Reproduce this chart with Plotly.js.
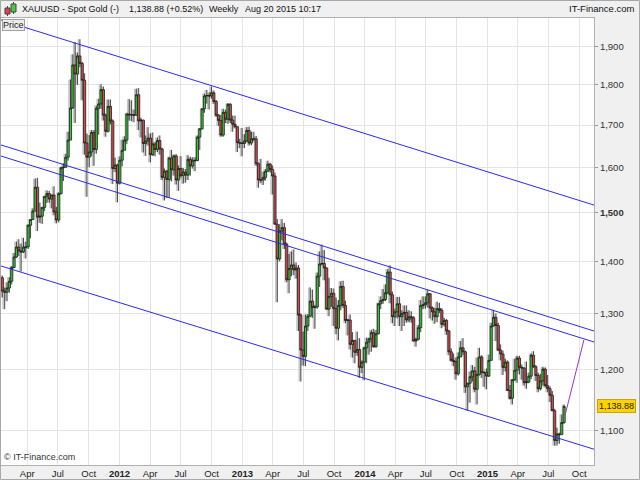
<!DOCTYPE html>
<html><head><meta charset="utf-8">
<script src="https://cdn.plot.ly/plotly-3.0.1.min.js"></script>
<style>html,body{margin:0;padding:0;background:#fff;}#chart{width:640px;height:480px;}</style>
</head><body><div id="chart"></div>
<script>
// ---- weekly candles (week start Mondays, first week below) ----
const firstWeek = '2011-01-17';
const open = [
1368,1342,1340,1348,1361,1388,1409,1429,1421,1419,1429,1429,1474,1486,1504,1556,1491,1493,1512,1536,1542,1530,1539,1502,1485,1542,1600,1601,1624,1664,1742,1852,1828,1876,1856,1812,1657,1624,1636,1682,1642,1741,1752,1788,1724,1685,1746,1710,1598,1606,
1565,1617,1640,1664,1727,1725,1725,1724,1775,1710,1712,1656,1662,1669,1630,1655,1642,1663,1643,1578,1592,1573,1622,1595,1627,1572,1598,1582,1590,1583,1619,1604,1617,1616,1671,1691,1740,1772,1773,1772,1780,1758,1724,1711,1676,1731,1714,1751,1712,1702,1696,1658,1657,
1656,1662,1687,1657,1667,1667,1609,1572,1572,1578,1592,1608,1596,1581,1476,1405,1462,1469,1435,1364,1386,1393,1383,1387,1297,1234,1223,1277,1295,1323,1311,1312,1371,1395,1396,1387,1308,1332,1338,1309,1273,1315,1351,1315,1287,1288,1244,1251,1230,1235,1204,1213,
1238,1248,1254,1265,1240,1263,1318,1324,1326,1339,1379,1335,1294,1303,1318,1294,1300,1302,1288,1294,1292,1250,1253,1274,1315,1316,1320,1337,1310,1303,1294,1309,1306,1280,1287,1268,1231,1216,1214,1193,1222,1238,1231,1171,1177,1188,1198,1167,1192,1222,1195,1195,
1189,1216,1277,1293,1278,1234,1227,1204,1213,1165,1152,1183,1199,1220,1204,1203,1178,1179,1189,1225,1205,1190,1168,1181,1201,1173,1168,1157,1132,1085,1095,1094,1113];
const high = [
1372,1349,1359,1369,1391,1417,1440,1445,1436,1448,1440,1476,1487,1510,1575,1577,1522,1513,1537,1549,1548,1537,1558,1513,1545,1602,1610,1632,1684,1814,1880,1913,1885,1921,1860,1830,1680,1676,1688,1688,1748,1765,1802,1796,1728,1763,1763,1714,1623,1609,
1626,1665,1673,1730,1764,1761,1738,1790,1792,1718,1713,1675,1695,1680,1682,1660,1670,1675,1646,1598,1595,1625,1641,1630,1631,1605,1627,1599,1597,1629,1625,1624,1624,1675,1693,1741,1778,1787,1781,1796,1786,1762,1727,1725,1740,1738,1754,1754,1723,1723,1697,1667,1693,
1678,1695,1696,1684,1684,1674,1612,1620,1591,1597,1616,1611,1605,1589,1487,1476,1487,1479,1438,1415,1420,1424,1398,1393,1300,1267,1298,1299,1349,1345,1316,1378,1420,1434,1423,1388,1368,1348,1347,1330,1325,1361,1362,1324,1290,1298,1266,1252,1267,1255,1216,1240,
1256,1256,1270,1272,1270,1320,1332,1346,1355,1385,1392,1341,1309,1331,1331,1306,1315,1315,1306,1304,1295,1256,1279,1325,1332,1332,1345,1338,1313,1311,1322,1320,1310,1292,1290,1270,1237,1228,1221,1230,1250,1255,1233,1178,1197,1208,1205,1221,1238,1225,1198,1202,
1226,1283,1307,1300,1283,1244,1233,1219,1216,1174,1184,1219,1224,1224,1209,1204,1214,1195,1228,1232,1208,1195,1193,1205,1204,1191,1172,1164,1135,1105,1097,1126,1142];
const low = [
1330,1308,1323,1339,1355,1387,1407,1411,1380,1417,1406,1425,1447,1485,1504,1462,1479,1477,1504,1522,1522,1510,1495,1478,1480,1540,1570,1600,1616,1664,1740,1705,1800,1846,1761,1630,1535,1601,1626,1604,1632,1677,1740,1711,1672,1682,1702,1563,1590,1523,
1562,1603,1640,1655,1711,1710,1707,1723,1688,1670,1635,1627,1651,1612,1627,1626,1636,1630,1572,1527,1532,1533,1569,1582,1562,1548,1577,1564,1566,1572,1582,1598,1592,1615,1641,1689,1730,1753,1738,1765,1752,1720,1698,1672,1672,1705,1703,1705,1684,1692,1636,1645,1626,
1645,1659,1651,1652,1661,1604,1555,1565,1561,1571,1591,1589,1540,1476,1321,1400,1443,1425,1359,1338,1371,1373,1366,1268,1180,1207,1206,1268,1294,1292,1272,1309,1350,1392,1363,1307,1295,1312,1277,1262,1251,1306,1310,1282,1260,1235,1221,1211,1224,1186,1194,1182,
1211,1226,1231,1238,1238,1262,1308,1318,1323,1336,1319,1282,1277,1291,1277,1268,1277,1283,1284,1283,1249,1240,1251,1266,1308,1309,1311,1291,1287,1281,1284,1301,1273,1276,1261,1225,1214,1206,1183,1190,1222,1225,1161,1132,1145,1180,1162,1142,1190,1186,1171,1167,
1188,1216,1276,1250,1232,1216,1191,1197,1164,1150,1142,1181,1178,1192,1183,1173,1168,1177,1184,1203,1181,1162,1165,1173,1170,1162,1146,1131,1077,1077,1080,1094,1111];
const close = [
1342,1340,1348,1361,1388,1409,1429,1421,1419,1429,1429,1474,1486,1504,1556,1491,1493,1512,1536,1542,1530,1539,1502,1485,1542,1600,1601,1624,1664,1742,1852,1828,1876,1856,1812,1657,1624,1636,1682,1642,1741,1752,1788,1724,1685,1746,1710,1598,1606,1565,
1617,1640,1664,1727,1725,1725,1724,1775,1710,1712,1656,1662,1669,1630,1655,1642,1663,1643,1578,1592,1573,1622,1595,1627,1572,1598,1582,1590,1583,1619,1604,1617,1616,1671,1691,1740,1772,1773,1772,1780,1758,1724,1711,1676,1731,1714,1751,1712,1702,1696,1658,1657,1656,
1662,1687,1657,1667,1667,1609,1572,1572,1578,1592,1608,1596,1581,1476,1405,1462,1469,1435,1364,1386,1393,1383,1387,1297,1234,1223,1277,1295,1323,1311,1312,1371,1395,1396,1387,1308,1332,1338,1309,1273,1315,1351,1315,1287,1288,1244,1251,1230,1235,1204,1213,1238,
1248,1254,1265,1240,1263,1318,1324,1326,1339,1379,1335,1294,1303,1318,1294,1300,1302,1288,1294,1292,1250,1253,1274,1315,1316,1320,1337,1310,1303,1294,1309,1306,1280,1287,1268,1231,1216,1214,1193,1222,1238,1231,1171,1177,1188,1198,1167,1192,1222,1195,1195,1189,
1216,1277,1293,1278,1234,1227,1204,1213,1165,1152,1183,1199,1220,1204,1203,1178,1179,1189,1225,1205,1190,1168,1181,1201,1173,1168,1157,1132,1085,1095,1094,1113,1138.88];

// ---- axes ----
const yTickValues = [1100,1200,1300,1400,1500,1600,1700,1800,1900];
const yTickLabels = ['1,100','1,200','1,300','1,400','<b>1,500</b>','1,600','1,700','1,800','1,900'];
const xTickDates = ['2011-04-01','2011-07-01','2011-10-01','2012-01-01','2012-04-01','2012-07-01','2012-10-01','2013-01-01','2013-04-01','2013-07-01','2013-10-01','2014-01-01','2014-04-01','2014-07-01','2014-10-01','2015-01-01','2015-04-01','2015-07-01','2015-10-01'];
const xTickLabels = ['Apr','Jul','Oct','<b>2012</b>','Apr','Jul','Oct','<b>2013</b>','Apr','Jul','Oct','<b>2014</b>','Apr','Jul','Oct','<b>2015</b>','Apr','Jul','Oct'];
const xRange = ['2011-01-13','2015-11-14'];
const yRange = [1047.7, 1980];

// ---- drawn trend lines ----
const lineDates = ['2011-01-13','2015-11-14'];
const channelTopY = [1974.5, 1517];
const channelMidAY = [1652.6, 1267.9];
const channelMidBY = [1626.7, 1248.2];
const channelLowY = [1390.9, 1071.5];
const projectionDates = ['2015-08-20','2015-10-15'];
const projectionY = [1125, 1252];

// header texts
const headerParts = ['XAUUSD - Spot Gold (-)','1,138.88 (+0.52%)','Weekly','Aug 20 2015 10:17'];

const DAY = 86400000;
const dates = [];
{
  const t0 = Date.parse(firstWeek + 'T00:00:00Z');
  for (let i = 0; i < close.length; i++) {
    dates.push(new Date(t0 + i * 7 * DAY).toISOString().slice(0, 10));
  }
}
const ranges = high.map((h, i) => h - low[i]);

const blue = '#2a2af0';
function lineTrace(x, y, color) {
  return {type:'scatter', mode:'lines', x:x, y:y, line:{color:color, width:1}, hoverinfo:'skip', showlegend:false};
}
const traces = [
  // light grey shadow of each week's range, drawn behind the candles
  {type:'bar', x:dates, y:ranges, base:low, width:6*DAY, offset:-7*DAY,
   marker:{color:'#c6c6c6', line:{width:0}}, hoverinfo:'skip', showlegend:false},
  lineTrace(lineDates, channelTopY, blue),
  lineTrace(lineDates, channelMidAY, blue),
  lineTrace(lineDates, channelMidBY, blue),
  lineTrace(lineDates, channelLowY, blue),
  lineTrace(projectionDates, projectionY, '#9933cc'),
  {
    type:'candlestick', x:dates, open:open, high:high, low:low, close:close,
    increasing:{line:{color:'#1a1a1a', width:0.8}, fillcolor:'#33cc33'},
    decreasing:{line:{color:'#1a1a1a', width:0.8}, fillcolor:'#dd4c4c'},
    whiskerwidth:0, showlegend:false, hoverinfo:'skip'
  }
];

// pixel helpers for decorations (plot area: x 1..594, y 18..465)
const L = 1, R = 46, T = 18, B = 15, W = 640, H = 480;
const pw = W - L - R, ph = H - T - B;
const px = v => (v - L) / pw;
const py = v => (H - B - v) / ph;

const font = 'Liberation Sans, Arial, sans-serif';
const ann = [];
const headerX = [20, 127, 207, 243];
headerParts.forEach((t, i) => ann.push({xref:'paper', yref:'paper', x:px(headerX[i]), y:py(9), xanchor:'left', yanchor:'middle', text:t, showarrow:false, font:{family:font, size:9, color:'#111'}}));
ann.push({xref:'paper', yref:'paper', x:px(637), y:py(9), xanchor:'right', yanchor:'middle', text:'IT-Finance.com', showarrow:false, font:{family:font, size:9.5, color:'#111'}});
ann.push({xref:'paper', yref:'paper', x:px(1.5), y:py(18.5), xanchor:'left', yanchor:'top', text:'Price', showarrow:false, bgcolor:'#ececec', bordercolor:'#a0a0a0', borderwidth:1, borderpad:0, font:{family:font, size:9, color:'#222'}});
ann.push({xref:'paper', yref:'paper', x:px(2), y:py(464), xanchor:'left', yanchor:'bottom', text:'© IT-Finance.com', showarrow:false, font:{family:font, size:9, color:'#333'}});
ann.push({xref:'paper', yref:'y', x:1, xshift:3, y:Math.log10(close[close.length-1]), xanchor:'left', yanchor:'middle', text:close[close.length-1].toLocaleString('en-US',{minimumFractionDigits:2}), showarrow:false, bgcolor:'#ffd200', bordercolor:'#c9a400', borderwidth:1, borderpad:1, font:{family:font, size:9, color:'#222'}});

const shapes = [
  // header icon candles
  {type:'line', xref:'paper', yref:'paper', x0:px(7.5), x1:px(7.5), y0:py(6), y1:py(16), line:{color:'#444', width:1}},
  {type:'rect', xref:'paper', yref:'paper', x0:px(5), x1:px(10), y0:py(8), y1:py(14), fillcolor:'#dd4444', line:{color:'#444', width:1}},
  {type:'line', xref:'paper', yref:'paper', x0:px(13.5), x1:px(13.5), y0:py(2), y1:py(14), line:{color:'#444', width:1}},
  {type:'rect', xref:'paper', yref:'paper', x0:px(11), x1:px(16), y0:py(4), y1:py(12), fillcolor:'#44cc44', line:{color:'#444', width:1}},
  // outer border
  {type:'rect', xref:'paper', yref:'paper', x0:px(0.5), x1:px(639.5), y0:py(479.5), y1:py(0.5), line:{color:'#a8a8a8', width:1}, fillcolor:'rgba(0,0,0,0)'}
];

const layout = {
  width:W, height:H,
  margin:{l:L, r:R, t:T, b:B, pad:0},
  paper_bgcolor:'#f0f0f0', plot_bgcolor:'#ffffff',
  showlegend:false, boxgap:0.05, boxgroupgap:0.05, barmode:'overlay',
  font:{family:font, size:9, color:'#333'},
  xaxis:{type:'date', range:xRange, tickmode:'array', tickvals:xTickDates, ticktext:xTickLabels,
    showgrid:true, gridcolor:'#e4e4e4', gridwidth:1, ticks:'', tickfont:{family:font, size:9.5, color:'#222'},
    showline:true, linecolor:'#b0b0b0', mirror:true, zeroline:false, rangeslider:{visible:false}, fixedrange:true},
  yaxis:{type:'log', side:'right', range:[Math.log10(yRange[0]), Math.log10(yRange[1])], tickmode:'array', tickvals:yTickValues, ticktext:yTickLabels,
    showgrid:true, gridcolor:'#e4e4e4', gridwidth:1, ticks:'outside', ticklen:3, tickcolor:'#999', tickfont:{family:font, size:9.5, color:'#333'},
    showline:true, linecolor:'#b0b0b0', mirror:true, zeroline:false, fixedrange:true},
  annotations:ann, shapes:shapes
};
Plotly.newPlot('chart', traces, layout, {staticPlot:true, displayModeBar:false});
</script></body></html>
